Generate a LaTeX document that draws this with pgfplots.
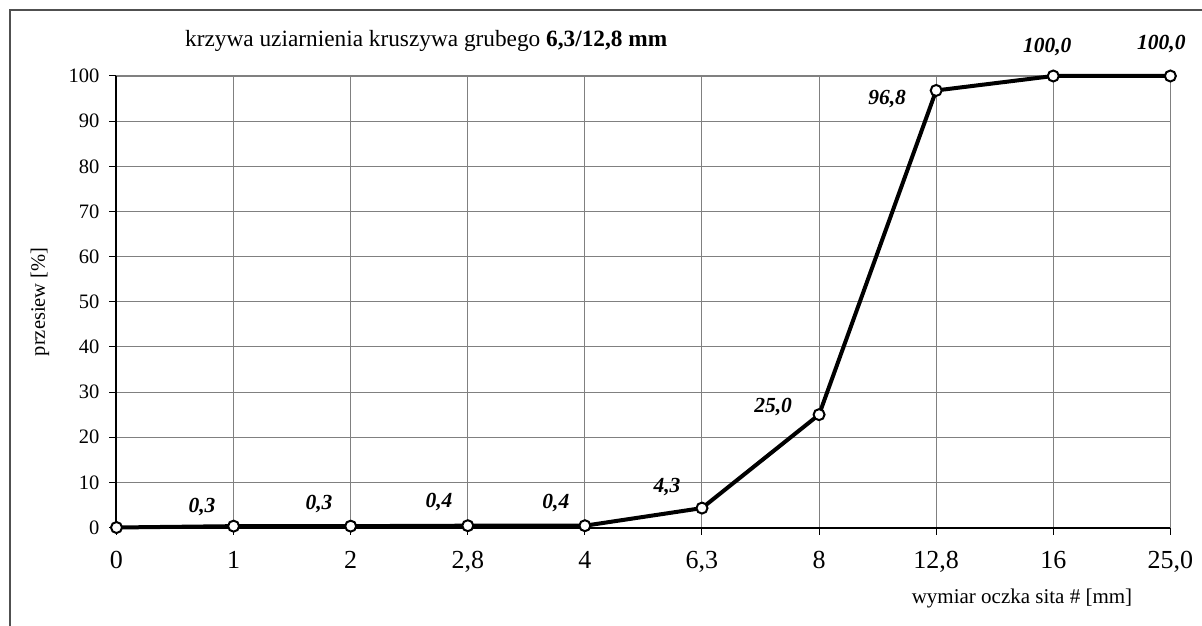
\documentclass[border=0pt]{standalone}
\usepackage{pgfplots}
\pgfplotsset{compat=1.18}
\usepackage{fontspec}
\setmainfont{Liberation Serif}
\definecolor{gridgray}{RGB}{128,128,128}
\definecolor{framegray}{RGB}{80,80,80}
\begin{document}
\begin{tikzpicture}[x=1pt,y=1pt]
\begin{axis}[
  at={(0,0)}, anchor=origin,
  scale only axis,
  width=1054pt, height=451.5pt,
  xmin=0, xmax=9, ymin=0, ymax=100,
  enlargelimits=false,
  clip=false,
  xtick={0,...,9},
  xticklabels={0,1,2,{2,8},4,{6,3},8,{12,8},16,{25,0}},
  ytick={0,10,...,100},
  grid=major,
  major grid style={gridgray, line width=1pt},
  axis line style={gridgray, line width=1.5pt},
  tick align=outside,
  xtick pos=bottom, ytick pos=left,
  major tick length=7pt,
  tick style={black, line width=1pt},
  /pgf/number format/assume math mode=true,
  xticklabel style={font=\fontsize{26}{26}\selectfont, inner sep=0pt, anchor=north, yshift=-17pt},
  yticklabel style={font=\fontsize{20.5}{20.5}\selectfont, inner sep=0pt, anchor=east, xshift=-10pt},
]
\draw[black, line width=2pt] (axis cs:0,0) -- (axis cs:0,100);
\draw[black, line width=2pt] (axis cs:0,0) -- (axis cs:9,0);
\addplot[black, line width=4pt, mark=*, mark size=5.5pt,
  mark options={fill=white, draw=black, line width=2pt}]
  coordinates {(0,0) (1,0.3) (2,0.3) (3,0.4) (4,0.4) (5,4.3) (6,25.0) (7,96.8) (8,100) (9,100)};
\begin{scope}[every node/.style={font=\bfseries\itshape\fontsize{21.5}{21.5}\selectfont, inner sep=0pt}]
\node[xshift=-31.6pt, yshift=19pt] at (axis cs:1,0.3) {0,3};
\node[xshift=-31.7pt, yshift=22pt] at (axis cs:2,0.3) {0,3};
\node[xshift=-28.8pt, yshift=24pt] at (axis cs:3,0.4) {0,4};
\node[xshift=-29pt, yshift=23pt] at (axis cs:4,0.4) {0,4};
\node[xshift=-35pt, yshift=21pt] at (axis cs:5,4.3) {4,3};
\node[xshift=-46pt, yshift=7.6pt] at (axis cs:6,25.0) {25,0};
\node[xshift=-49pt, yshift=-8.5pt] at (axis cs:7,96.8) {96,8};
\node[xshift=-6pt, yshift=29pt] at (axis cs:8,100) {100,0};
\node[xshift=-9pt, yshift=31.5pt] at (axis cs:9,100) {100,0};
\end{scope}
\end{axis}
% y label
\node[rotate=90, font=\fontsize{20.5}{20.5}\selectfont, inner sep=0pt] at (-76.5,225.75) {przesiew [\%]};
% x label
\node[anchor=base, font=\fontsize{21}{21}\selectfont, inner sep=0pt] at (905.5,-75.5) {wymiar oczka sita \# [mm]};
% title
\node[anchor=base west, font=\fontsize{23.3}{23.3}\selectfont, inner sep=0pt] at (68.5,480.5) {krzywa uziarnienia kruszywa grubego \textbf{6,3/12,8 mm}};
% frame
\draw[framegray, line width=1.5pt] (-106.5,-100) -- (-106.5,517.5) -- (1090,517.5);
\pgfresetboundingbox
\path[use as bounding box] (-116.5,-97.5) rectangle (1085.5,527.5);
\end{tikzpicture}
\end{document}
